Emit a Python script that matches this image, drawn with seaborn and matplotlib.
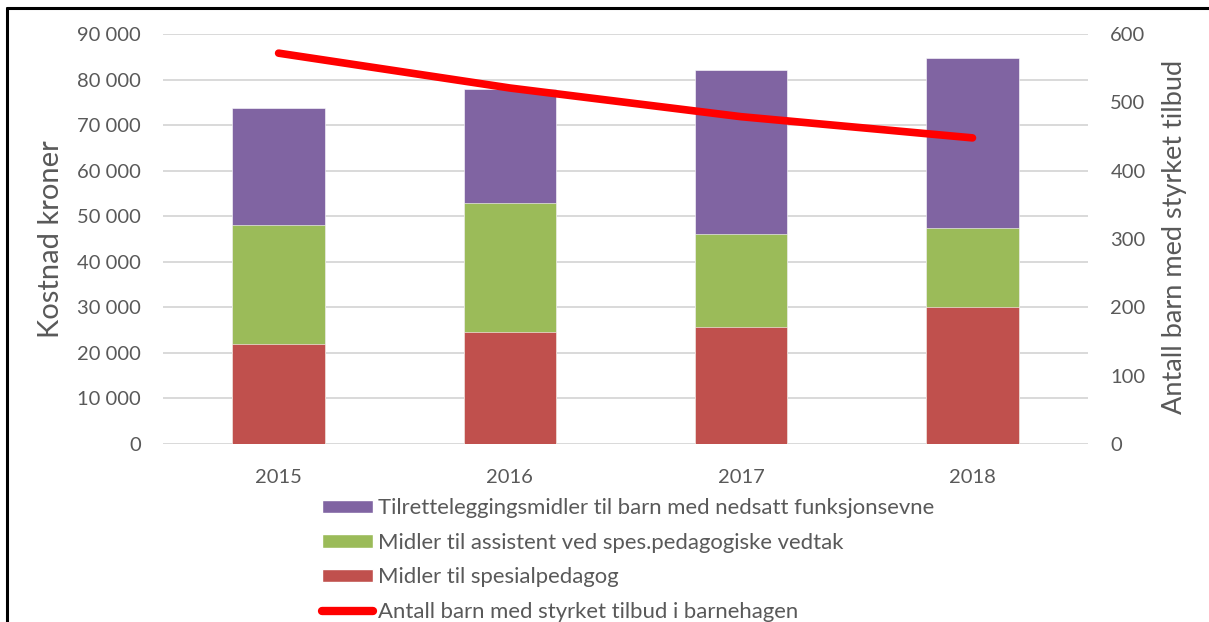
import numpy as np
import pandas as pd
import matplotlib.pyplot as plt
import seaborn as sns
from matplotlib.lines import Line2D
from matplotlib.patches import Patch
from matplotlib.ticker import FuncFormatter, MultipleLocator

# Data
years = ["2015", "2016", "2017", "2018"]
spesialpedagog = [22000, 24500, 25600, 30100]
assistent = [26100, 28400, 20500, 17400]
tilrettelegging = [25700, 25100, 35900, 37200]
antall_barn = [572, 521, 479, 448]

labels = [
    "Tilretteleggingsmidler til barn med nedsatt funksjonsevne",
    "Midler til assistent ved spes.pedagogiske vedtak",
    "Midler til spesialpedagog",
    "Antall barn med styrket tilbud i barnehagen",
]

purple = "#8064A2"
green = "#9BBB59"
red = "#C0504D"
line_red = "#FF0000"
grey = "#595959"

sns.set_style("white")
plt.rcParams["font.family"] = ["Lato", "DejaVu Sans"]

df = pd.DataFrame({
    "year": years,
    "red": spesialpedagog,
    "green": assistent,
    "purple": tilrettelegging,
    "barn": antall_barn,
})
df["lvl1"] = df["red"]
df["lvl2"] = df["red"] + df["green"]
df["lvl3"] = df["lvl2"] + df["purple"]

fig = plt.figure(figsize=(12.09, 6.22), dpi=100)
ax = fig.add_axes([0.1348, 0.2862, 0.7652, 0.6591])

# stacked bars: draw cumulative totals from top layer down
for col, c in [("lvl3", purple), ("lvl2", green), ("lvl1", red)]:
    sns.barplot(data=df, x="year", y=col, color=c, width=0.4, ax=ax,
                saturation=1, edgecolor="white", linewidth=0.4, zorder=2)

ax.set_ylim(0, 90000)
ax.set_xlim(-0.5, 3.5)
ax.yaxis.set_major_locator(MultipleLocator(10000))
ax.yaxis.set_major_formatter(FuncFormatter(lambda v, p: f"{int(v):,}".replace(",", " ")))
ax.grid(axis="y", color="#D9D9D9", linewidth=1.4, zorder=0)
ax.set_axisbelow(True)
for s in ax.spines.values():
    s.set_visible(False)
ax.tick_params(axis="y", length=0, pad=16, labelsize=14.5, labelcolor=grey)
ax.tick_params(axis="x", length=0, pad=18, labelsize=14.5, labelcolor=grey)
ax.set_xlabel("")
ax.set_ylabel("Kostnad kroner", fontsize=21, color=grey)
ax.yaxis.set_label_coords(-0.107, 0.5)

ax2 = ax.twinx()
sns.lineplot(x=np.arange(len(years)), y=df["barn"], ax=ax2, color=line_red,
             linewidth=5.5, solid_capstyle="round", zorder=5)
ax2.set_ylim(0, 600)
ax2.yaxis.set_major_locator(MultipleLocator(100))
for s in ax2.spines.values():
    s.set_visible(False)
ax2.tick_params(axis="y", length=0, pad=16, labelsize=14.5, labelcolor=grey)
ax2.set_ylabel("Antall barn med styrket tilbud", fontsize=19.5, color=grey)
ax2.yaxis.set_label_coords(1.080, 0.506)

handles = [
    Patch(facecolor=purple),
    Patch(facecolor=green),
    Patch(facecolor=red),
    Line2D([0], [0], color=line_red, linewidth=6, solid_capstyle="round"),
]
leg = fig.legend(handles, labels, loc="upper left", bbox_to_anchor=(0.2663, 0.1992),
                 frameon=False, fontsize=15.9, labelspacing=0.66, handlelength=2.3,
                 handleheight=0.55, handletextpad=0.22, borderpad=0, borderaxespad=0)
for t in leg.get_texts():
    t.set_color(grey)

# black frame on top and left edge
fig.add_artist(Line2D([0.0055, 1.0], [0.9865, 0.9865], color="black", linewidth=2.2,
                      transform=fig.transFigure))
fig.add_artist(Line2D([0.0055, 0.0055], [0.0, 0.9865], color="black", linewidth=2.2,
                      transform=fig.transFigure))

fig.savefig("out.png", dpi=100)
